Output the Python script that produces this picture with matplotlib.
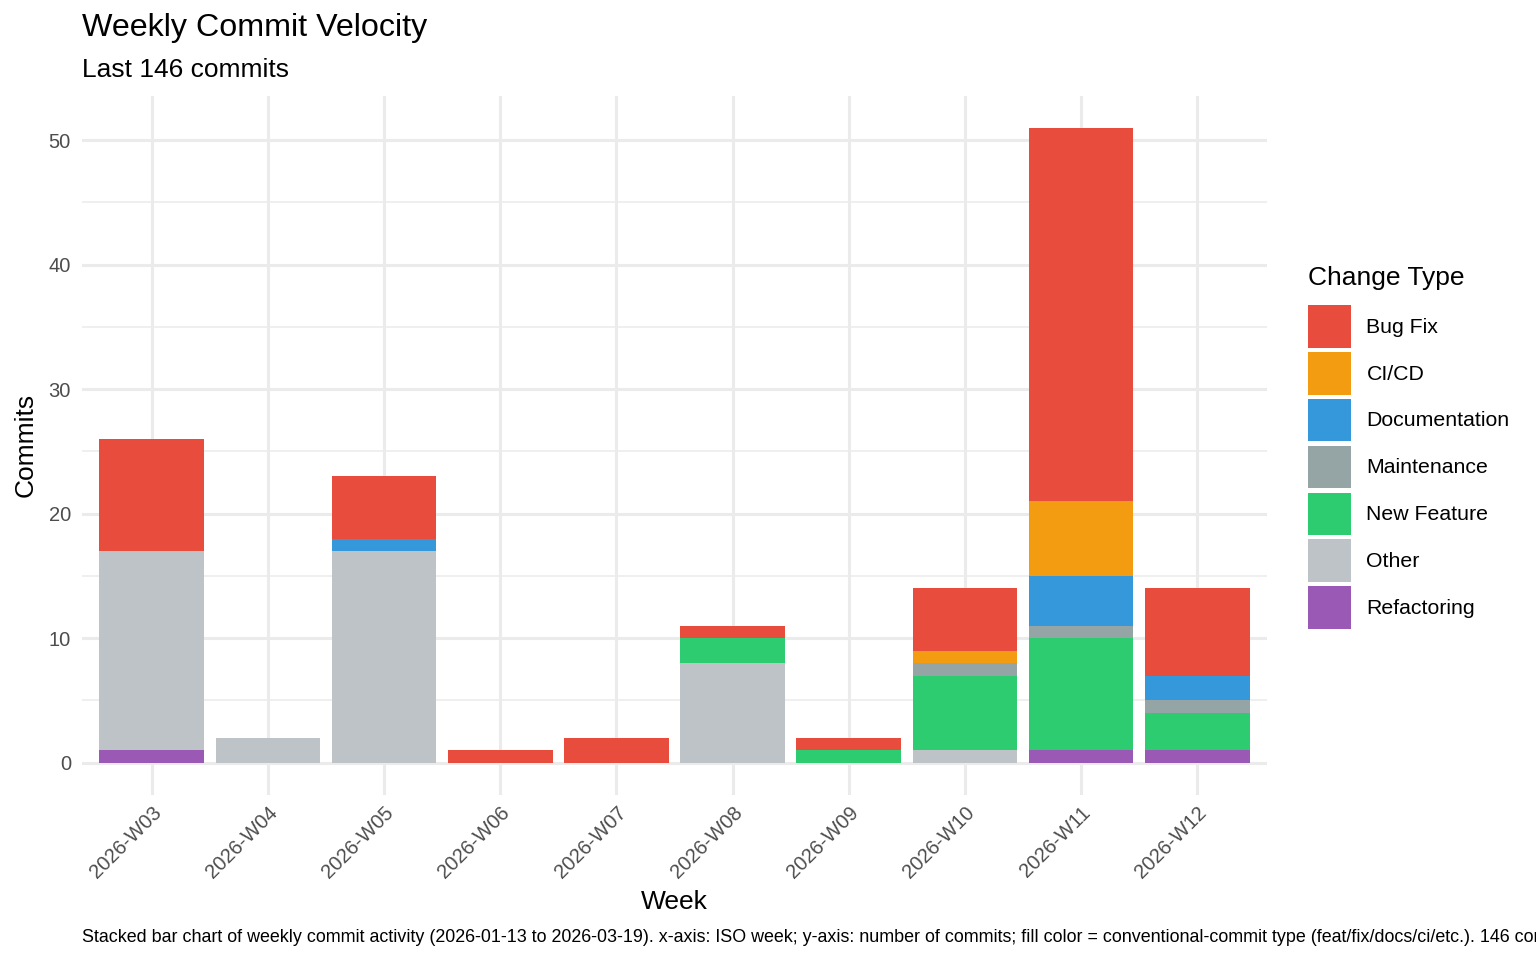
import numpy as np
import matplotlib
matplotlib.use("Agg")
import matplotlib.pyplot as plt
from matplotlib.patches import Patch

plt.rcParams['font.family'] = ['Liberation Sans', 'DejaVu Sans']

# Datos: commits por semana y tipo de cambio
weeks = ['2026-W03', '2026-W04', '2026-W05', '2026-W06', '2026-W07',
         '2026-W08', '2026-W09', '2026-W10', '2026-W11', '2026-W12']
refactoring = [1, 0, 0, 0, 0, 0, 0, 0, 1, 1]
other = [16, 2, 17, 0, 0, 8, 0, 1, 0, 0]
new_feature = [0, 0, 0, 0, 0, 2, 1, 6, 9, 3]
maintenance = [0, 0, 0, 0, 0, 0, 0, 1, 1, 1]
documentation = [0, 0, 1, 0, 0, 0, 0, 0, 4, 2]
ci_cd = [0, 0, 0, 0, 0, 0, 0, 1, 6, 0]
bug_fix = [9, 0, 5, 1, 2, 1, 1, 5, 30, 7]

# Orden de apilado (de abajo hacia arriba)
stack = [
    ('Refactoring', refactoring, '#9B59B6'),
    ('Other', other, '#BDC3C7'),
    ('New Feature', new_feature, '#2ECC71'),
    ('Maintenance', maintenance, '#95A5A6'),
    ('Documentation', documentation, '#3498DB'),
    ('CI/CD', ci_cd, '#F39C12'),
    ('Bug Fix', bug_fix, '#E74C3C'),
]

W, H = 1536, 960
fig = plt.figure(figsize=(W / 100, H / 100), dpi=100)
ax = fig.add_axes([82 / W, 1 - 794.5 / H, (1267 - 82) / W, (794.5 - 95.8) / H])

x = np.arange(len(weeks))
bottom = np.zeros(len(weeks))
for name, vals, color in stack:
    vals = np.array(vals, dtype=float)
    ax.bar(x, vals, bottom=bottom, width=0.9, color=color, label=name,
           linewidth=0, zorder=3)
    bottom += vals

total = bottom.max()
pad = total * 0.05
ax.set_ylim(-pad, total + pad)
ax.set_xlim(-0.6, len(weeks) - 0.4)

# Rejilla estilo theme_minimal
ax.set_yticks(np.arange(0, 51, 10))
ax.set_yticks(np.arange(5, 51, 10), minor=True)
ax.set_xticks(x)
ax.set_xticklabels(weeks, rotation=45, ha='right', rotation_mode='anchor')
ax.grid(True, which='major', color='#EBEBEB', linewidth=2.2, zorder=0)
ax.grid(True, which='minor', axis='y', color='#EBEBEB', linewidth=1.1, zorder=0)
ax.tick_params(axis='both', which='both', length=0, labelsize=14.5,
               labelcolor='#4D4D4D')
ax.tick_params(axis='x', pad=6)
ax.tick_params(axis='y', pad=8)
for s in ax.spines.values():
    s.set_visible(False)

ax.set_xlabel('Week', fontsize=19, labelpad=6)
ax.set_ylabel('Commits', fontsize=19, labelpad=8)

fig.text(82 / W, 1 - 13 / H, 'Weekly Commit Velocity', fontsize=23.2,
         ha='left', va='top')
fig.text(82 / W, 1 - 58 / H, 'Last 146 commits', fontsize=19,
         ha='left', va='top')
fig.text(82 / W, 1 - 937 / H,
         'Stacked bar chart of weekly commit activity (2026-01-13 to 2026-03-19). '
         'x-axis: ISO week; y-axis: number of commits; fill color = conventional-commit '
         'type (feat/fix/docs/ci/etc.). 146 commits.',
         fontsize=12.9, ha='left', va='center')

# Leyenda (titulo aparte para controlar el espacio)
fig.text(1308 / W, 1 - 278 / H, 'Change Type', fontsize=19,
         ha='left', va='center')
handles = [Patch(facecolor=c, edgecolor='none', label=n) for n, _, c in reversed(stack)]
leg = fig.legend(handles=handles, loc='upper left',
                 bbox_to_anchor=(1308 / W, 1 - 305 / H), frameon=False,
                 fontsize=15.3, handlelength=2.03, handleheight=2.71,
                 labelspacing=0.2, handletextpad=0.72, borderpad=0,
                 borderaxespad=0)

fig.savefig('out.png', dpi=100)
